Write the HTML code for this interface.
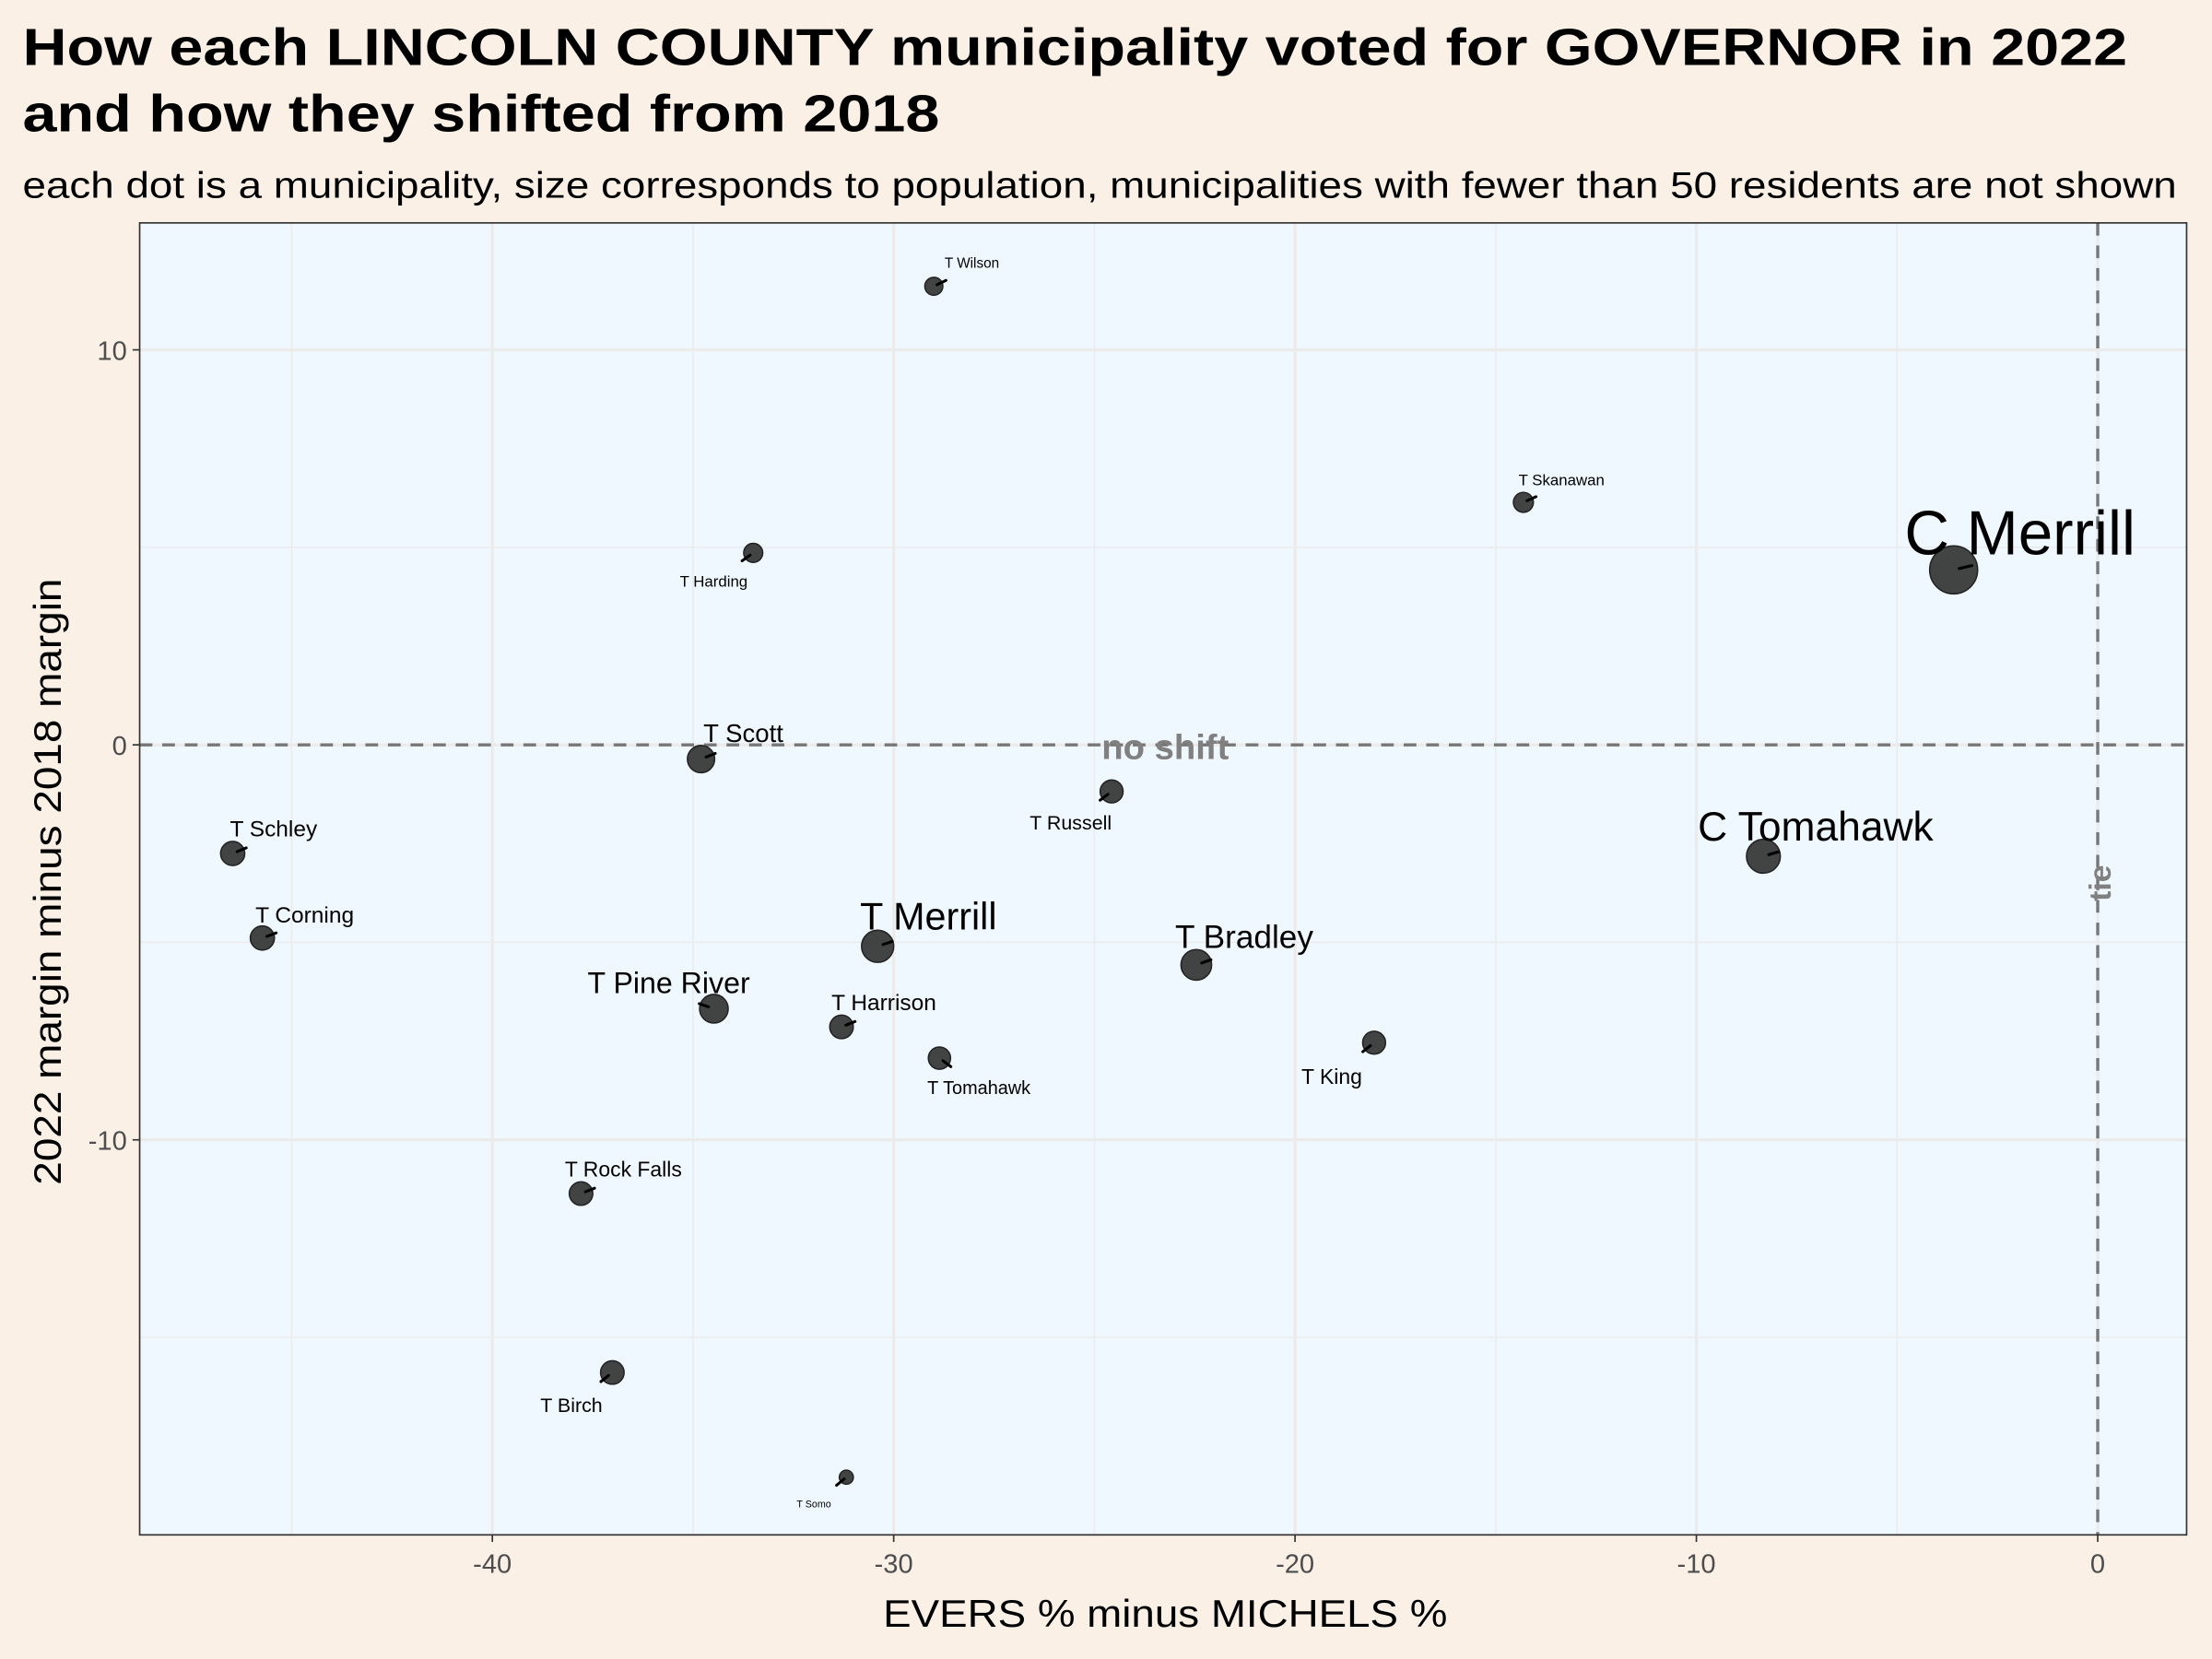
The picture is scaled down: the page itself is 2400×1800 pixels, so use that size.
<!DOCTYPE html>
<html><head><meta charset="utf-8"><style>
html,body{margin:0;padding:0;background:#FAF0E6;}
svg{display:block;font-family:"Liberation Sans",Arial,sans-serif;}
</style></head><body>
<svg id="chart" width="2400" height="1800" viewBox="0 0 1568 1176" xmlns="http://www.w3.org/2000/svg">
<rect width="1568" height="1176" fill="#FAF0E6"/>
<text x="16" y="46" font-size="37" font-weight="bold" textLength="1492" lengthAdjust="spacingAndGlyphs">How each LINCOLN COUNTY municipality voted for GOVERNOR in 2022</text>
<text x="16" y="93" font-size="37" font-weight="bold" textLength="650" lengthAdjust="spacingAndGlyphs">and how they shifted from 2018</text>
<text x="16" y="140" font-size="26" textLength="1527" lengthAdjust="spacingAndGlyphs">each dot is a municipality, size corresponds to population, municipalities with fewer than 50 residents are not shown</text>
<rect x="99" y="158" width="1451" height="930" fill="#F0F8FF"/>
<g id="grid"></g>
<g id="refs"></g>
<g id="marks"></g>
<g id="labels"></g>
<rect x="99" y="158" width="1451" height="930" fill="none" stroke="#333" stroke-width="1.1"/>
<g id="axes"></g>
<text x="826" y="1153" font-size="27" text-anchor="middle" textLength="400" lengthAdjust="spacingAndGlyphs">EVERS % minus MICHELS %</text>
<text transform="translate(43,625) rotate(-90)" font-size="27" text-anchor="middle" textLength="430" lengthAdjust="spacingAndGlyphs">2022 margin minus 2018 margin</text>
</svg>
<script>
const names = ["C Merrill","C Tomahawk","T Merrill","T Bradley","T Pine River","T Scott","T Schley","T Corning","T Harrison","T Tomahawk","T King","T Russell","T Rock Falls","T Birch","T Somo","T Harding","T Wilson","T Skanawan"];
const margin2022 = [-3.59,-8.33,-30.4,-22.46,-34.48,-34.8,-46.47,-45.73,-31.3,-28.86,-18.03,-24.57,-37.79,-37.01,-31.18,-33.5,-29.0,-14.31];
const shift = [4.43,-2.82,-5.1,-5.57,-6.68,-0.36,-2.75,-4.89,-7.14,-7.93,-7.54,-1.18,-11.36,-15.89,-18.54,4.86,11.61,6.14];
const population = [9000,3400,2900,2500,2000,1700,1100,1100,1000,800,900,900,1000,1000,50,400,300,500];
const xTicks = [-40,-30,-20,-10,0];
const yTicks = [-10,0,10];
const xMinor = [-45,-35,-25,-15,-5];
const yMinor = [-15,-5,5];
// label layout (offsets in px relative to point, font size)
const labelDx = [47,37,36,34,-32,30,29,30,30,28,-30,-29,30,-29,-23,-28,27,27];
const labelDy = [-11,-11,-12,-12,-11,-12,-12,-11,-12,21,24,22,-12,23,19,20,-13,-12];
const labelFs = [44,29,27,23,21,18,16,16,16,13,15,14,15,14,7,11,10,11];

const NS="http://www.w3.org/2000/svg";
const X0=99,X1=1550,Y0=158,Y1=1088;
function xs(v){return 1487+v*28.45;}
function ys(v){return 528-v*28;}
function mk(tag,attrs,parent){const e=document.createElementNS(NS,tag);for(const k in attrs)e.setAttribute(k,attrs[k]);parent.appendChild(e);return e;}
const grid=document.getElementById('grid'),refs=document.getElementById('refs'),marks=document.getElementById('marks'),labels=document.getElementById('labels'),axes=document.getElementById('axes');
xMinor.forEach(v=>{const l=mk('line',{x1:xs(v),x2:xs(v),y1:Y0,y2:Y1,stroke:'#EBEBEB','stroke-width':1},grid);

});
yMinor.forEach(v=>{const l=mk('line',{x1:X0,x2:X1,y1:ys(v),y2:ys(v),stroke:'#EBEBEB','stroke-width':1},grid);

});
xTicks.forEach(v=>{const l=mk('line',{x1:xs(v),x2:xs(v),y1:Y0,y2:Y1,stroke:'#EBEBEB','stroke-width':2.2},grid);


const t=mk('line',{x1:xs(v),x2:xs(v),y1:Y1,y2:Y1+5,stroke:'#333','stroke-width':1.1},axes);


const tx=mk('text',{x:xs(v),y:Y1+27,'font-size':19,fill:'#4D4D4D','text-anchor':'middle'},axes);tx.textContent=v;

});
yTicks.forEach(v=>{const l=mk('line',{x1:X0,x2:X1,y1:ys(v),y2:ys(v),stroke:'#EBEBEB','stroke-width':2.2},grid);


const t=mk('line',{x1:X0-5,x2:X0,y1:ys(v),y2:ys(v),stroke:'#333','stroke-width':1.1},axes);


const tx=mk('text',{x:X0-9,y:ys(v)+7,'font-size':19,fill:'#4D4D4D','text-anchor':'end'},axes);tx.textContent=v;

});
const h=mk('line',{x1:X0,x2:X1,y1:ys(0),y2:ys(0),stroke:'#777','stroke-width':2.2,'stroke-dasharray':'9,7'},refs);


const vl=mk('line',{x1:xs(0),x2:xs(0),y1:Y0,y2:Y1,stroke:'#777','stroke-width':2.2,'stroke-dasharray':'9,7'},refs);


const ns=mk('text',{x:826,y:538,'font-size':25,'font-weight':'bold',fill:'#808080','text-anchor':'middle'},refs);ns.textContent='no shift';


const tie=mk('text',{transform:'translate(1496,626) rotate(-90)','font-size':22,'font-weight':'bold',fill:'#808080','text-anchor':'middle'},refs);tie.textContent='tie';


names.forEach((n,i)=>{
 const cx=xs(margin2022[i]),cy=ys(shift[i]);
 const r=4+13*Math.sqrt(population[i]/9000);
 const c=mk('circle',{cx:cx,cy:cy,r:r,fill:'#333',stroke:'#222','stroke-width':1,'fill-opacity':0.92},marks);
 
 
 const dx=labelDx[i],dy=labelDy[i];
 const d=Math.hypot(dx,dy),ux=dx/d,uy=dy/d;
 const s0=Math.min(4,r*0.4),s1=s0+Math.max(7,r*0.55);
 const seg=mk('line',{x1:cx+ux*s0,y1:cy+uy*s0,x2:cx+ux*s1,y2:cy+uy*s1,stroke:'#000','stroke-width':2,'stroke-linecap':'round'},labels);
 
 
 const fs=labelFs[i];
 const t=mk('text',{x:cx+dx,y:cy+dy+(dy<0?0:fs*0.35),'font-size':fs,'text-anchor':'middle',fill:'#000'},labels);
 t.textContent=n;
 
 
});
</script>
</body></html>
